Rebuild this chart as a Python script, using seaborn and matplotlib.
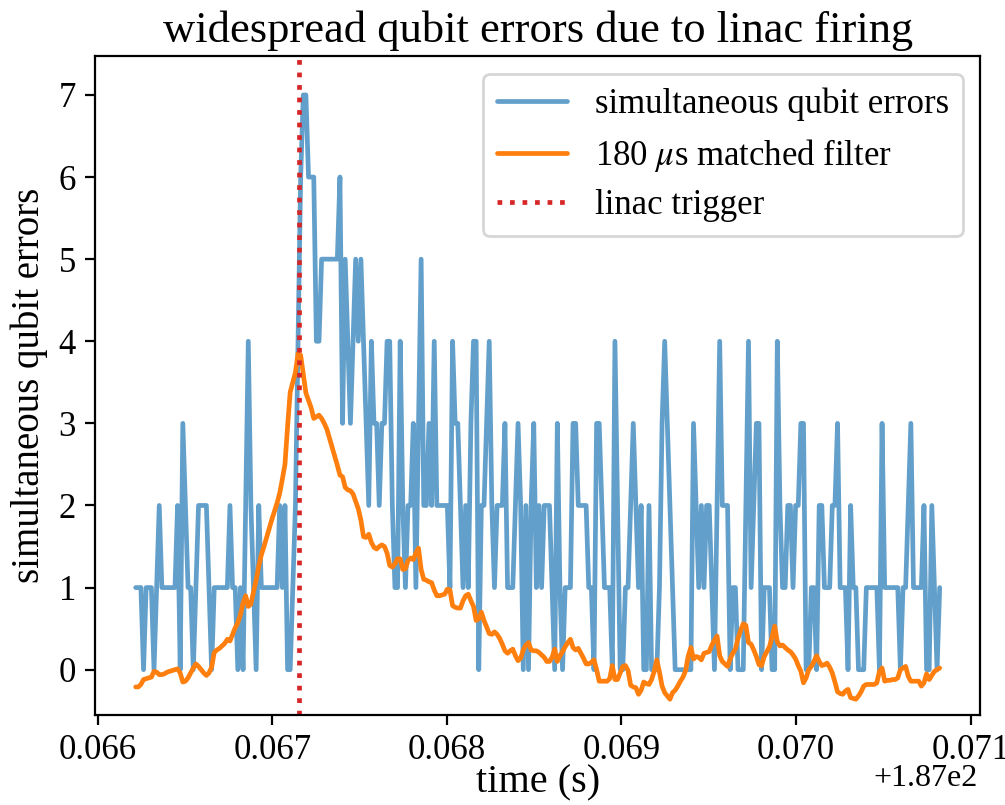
import numpy as np
import pandas as pd
import matplotlib
matplotlib.use("Agg")
import matplotlib.pyplot as plt
import seaborn as sns

# ---- data -------------------------------------------------------------
t_start = 187.0662176      # s, first sample
t_step = 15e-6             # s, sample spacing
trigger_time = 187.067152  # s, linac trigger

errors = [
    1, 1, 1, 0, 1, 1, 1, 0, 1, 2,
    1, 1, 1, 1, 1, 1, 2, 0, 3, 2,
    1, 1, 0, 1, 2, 2, 2, 2, 1, 0,
    1, 1, 1, 1, 1, 1, 2, 1, 1, 0,
    1, 0, 2, 4, 2, 1, 0, 2, 1, 1,
    1, 1, 1, 1, 1, 2, 1, 2, 0, 0,
    1, 2, 4, 6, 7, 7, 6, 6, 6, 4,
    4, 5, 5, 5, 5, 5, 5, 5, 6, 3,
    5, 4, 3, 4, 5, 4, 5, 4, 3, 2,
    4, 3, 3, 2, 3, 3, 4, 4, 2, 1,
    1, 4, 2, 1, 2, 2, 3, 1, 3, 5,
    2, 2, 3, 2, 4, 2, 2, 2, 2, 2,
    1, 4, 3, 3, 2, 1, 2, 1, 3, 4,
    4, 0, 2, 2, 3, 4, 2, 1, 2, 2,
    2, 3, 1, 1, 1, 2, 3, 2, 0, 2,
    0, 2, 3, 1, 2, 1, 2, 2, 2, 1,
    0, 3, 1, 0, 1, 1, 1, 3, 3, 2,
    2, 2, 2, 1, 1, 0, 3, 3, 2, 1,
    1, 1, 0, 4, 2, 0, 0, 1, 1, 2,
    3, 2, 1, 2, 0, 0, 2, 0, 0, 0,
    1, 3, 4, 3, 2, 1, 0, 0, 0, 0,
    0, 0, 0, 3, 2, 1, 2, 1, 2, 2,
    1, 0, 2, 4, 2, 2, 2, 0, 1, 1,
    0, 0, 0, 2, 4, 1, 2, 3, 3, 0,
    1, 1, 1, 0, 0, 4, 2, 1, 1, 2,
    2, 1, 2, 2, 3, 3, 0, 0, 1, 1,
    0, 2, 2, 1, 1, 1, 2, 2, 3, 1,
    1, 1, 0, 2, 1, 1, 0, 0, 0, 1,
    1, 1, 1, 1, 0, 3, 1, 1, 1, 1,
    1, 1, 0, 1, 1, 2, 3, 1, 1, 1,
    1, 2, 0, 0, 2, 1, 0, 1,
]

matched = [
    -0.21, -0.21, -0.18, -0.12, -0.11, -0.10, -0.09, -0.02, -0.03, -0.06,
    -0.06, -0.05, -0.03, -0.02, -0.01, 0.00, 0.01, -0.04, -0.15, -0.14,
    -0.10, -0.04, 0.02, 0.07, 0.04, 0.00, -0.04, -0.07, -0.04, 0.03,
    0.21, 0.24, 0.26, 0.29, 0.32, 0.37, 0.35, 0.43, 0.51, 0.57,
    0.67, 0.81, 0.90, 0.77, 0.80, 0.95, 1.09, 1.26, 1.40, 1.50,
    1.61, 1.72, 1.83, 1.93, 2.03, 2.15, 2.32, 2.50, 2.96, 3.38,
    3.50, 3.62, 3.85, 3.83, 3.60, 3.37, 3.28, 3.19, 3.06, 3.08,
    3.10, 3.06, 3.00, 2.93, 2.82, 2.71, 2.60, 2.49, 2.37, 2.35,
    2.22, 2.19, 2.18, 2.14, 2.05, 1.96, 1.82, 1.62, 1.61, 1.65,
    1.55, 1.49, 1.47, 1.50, 1.52, 1.50, 1.42, 1.27, 1.25, 1.29,
    1.35, 1.35, 1.22, 1.23, 1.33, 1.36, 1.34, 1.42, 1.48, 1.22,
    1.10, 1.09, 1.07, 1.06, 0.97, 0.90, 0.90, 0.91, 0.92, 0.98,
    0.97, 0.78, 0.76, 0.75, 0.75, 0.84, 0.90, 0.92, 0.84, 0.77,
    0.60, 0.62, 0.70, 0.60, 0.52, 0.44, 0.43, 0.46, 0.43, 0.38,
    0.31, 0.23, 0.20, 0.23, 0.25, 0.17, 0.11, 0.14, 0.24, 0.30,
    0.33, 0.24, 0.23, 0.23, 0.21, 0.18, 0.15, 0.10, 0.10, 0.15,
    0.25, 0.10, 0.17, 0.22, 0.28, 0.33, 0.37, 0.27, 0.24, 0.26,
    0.20, 0.14, 0.07, 0.07, 0.09, 0.12, 0.00, -0.14, -0.14, -0.14,
    -0.14, -0.11, 0.05, -0.12, -0.12, -0.04, 0.04, 0.05, -0.01, -0.19,
    -0.21, -0.22, -0.30, -0.25, -0.15, -0.17, -0.18, -0.12, -0.02, 0.12,
    -0.03, -0.20, -0.28, -0.32, -0.36, -0.28, -0.25, -0.20, -0.14, -0.09,
    -0.01, 0.17, 0.27, 0.13, 0.16, 0.15, 0.12, 0.20, 0.21, 0.22,
    0.30, 0.36, 0.41, 0.17, 0.10, 0.07, 0.04, 0.13, 0.20, 0.25,
    0.38, 0.48, 0.56, 0.54, 0.33, 0.31, 0.24, 0.16, 0.06, 0.05,
    0.16, 0.22, 0.28, 0.40, 0.53, 0.34, 0.29, 0.30, 0.27, 0.24,
    0.22, 0.18, 0.13, 0.05, -0.02, -0.16, -0.10, 0.00, 0.04, 0.10,
    0.17, 0.10, 0.05, 0.06, 0.08, 0.03, -0.04, -0.15, -0.27, -0.29,
    -0.30, -0.26, -0.24, -0.34, -0.35, -0.36, -0.32, -0.27, -0.20, -0.18,
    -0.18, -0.18, -0.18, -0.16, -0.02, 0.02, -0.14, -0.13, -0.13, -0.12,
    -0.12, -0.10, 0.00, 0.02, 0.04, -0.08, -0.14, -0.14, -0.14, -0.14,
    -0.20, -0.16, -0.05, -0.12, -0.07, -0.02, 0.00, 0.02,
]

labels = ["simultaneous qubit errors", "180 $\\mu$s matched filter", "linac trigger"]
title = "widespread qubit errors due to linac firing"
xlabel = "time (s)"
ylabel = "simultaneous qubit errors"

time = t_start + t_step * np.arange(len(errors))
df = pd.DataFrame({"time": time, "errors": errors, "matched": matched})

# ---- style ------------------------------------------------------------
sns.set_theme(style="ticks")
plt.rcParams.update({
    "font.family": ["Liberation Serif", "DejaVu Serif"],
    "mathtext.fontset": "stix",
    "axes.edgecolor": "black",
    "axes.linewidth": 0.8,
    "xtick.color": "black",
    "ytick.color": "black",
    "text.color": "black",
    "axes.labelcolor": "black",
    "xtick.major.size": 3.5,
    "ytick.major.size": 3.5,
    "xtick.major.width": 0.8,
    "ytick.major.width": 0.8,
    "font.size": 12.5,
    "axes.grid": False,
})

fig, ax = plt.subplots(figsize=(5.025, 4.025), dpi=200)
fig.subplots_adjust(left=0.095, right=0.975, bottom=0.112, top=0.93)

sns.lineplot(data=df, x="time", y="errors", ax=ax, color="#1f77b4", alpha=0.7,
             linewidth=1.7, label=labels[0], estimator=None)
sns.lineplot(data=df, x="time", y="matched", ax=ax, color="#ff7f0e",
             linewidth=1.7, label=labels[1], estimator=None)
ax.axvline(trigger_time, color="#d62728", linestyle=":", linewidth=1.7, label=labels[2])

ax.set_ylim(-0.55, 7.47)
ax.set_yticks(range(0, 8))
ax.set_title(title, fontsize=16, pad=5)
ax.set_xlabel(xlabel, fontsize=14.5, labelpad=-1)
ax.set_ylabel(ylabel, fontsize=14, labelpad=4)
ax.tick_params(labelsize=12.5)
ax.legend(loc="upper right", fontsize=12.5, frameon=True, fancybox=True,
          framealpha=0.8, edgecolor="#cccccc", labelspacing=0.45)

# offset text placed beside the x label, as in the reference
fig.canvas.draw()
offset = ax.xaxis.get_major_formatter().get_offset()
ax.xaxis.get_offset_text().set_visible(False)
fig.text(0.973, 0.024, offset, ha="right", va="baseline", fontsize=11.5)

fig.savefig("out.png", dpi=200)
